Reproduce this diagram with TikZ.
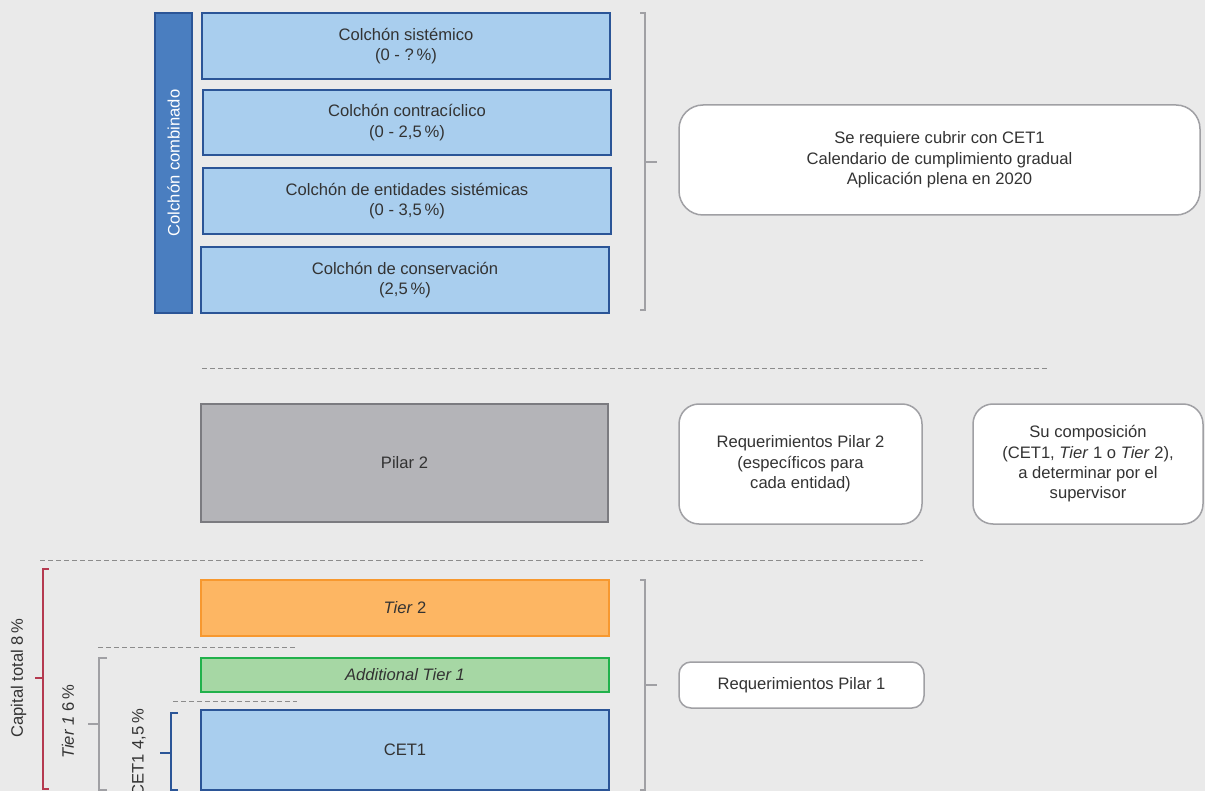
\documentclass[tikz,border=0pt]{standalone}
\usepackage{fontspec}
\setmainfont{Liberation Sans}
\definecolor{fondo}{HTML}{EAEAEA}
\definecolor{txtgray}{HTML}{333333}
\definecolor{cetfill}{HTML}{A9CEEE}
\definecolor{cetline}{HTML}{2B5597}
\definecolor{barfill}{HTML}{4A7EC0}
\definecolor{pilfill}{HTML}{B4B4B8}
\definecolor{pilline}{HTML}{7B7B80}
\definecolor{tierfill}{HTML}{FDB663}
\definecolor{tierline}{HTML}{F7982F}
\definecolor{addfill}{HTML}{A6D7A4}
\definecolor{addline}{HTML}{21B14B}
\definecolor{notaline}{HTML}{A0A0A4}
\definecolor{capred}{HTML}{B53A50}
\definecolor{cortegray}{HTML}{8C8C8C}

\begin{document}
\begin{tikzpicture}[x=0.5pt, y=-0.5pt,
    every node/.style={font=\fontsize{8.3}{10.2}\selectfont, text=txtgray, inner sep=0pt, align=center},
    colchon/.style={draw=cetline, fill=cetfill, line width=1pt, minimum width=204pt, minimum height=33pt},
    nota/.style={draw=notaline, fill=white, line width=0.75pt, rounded corners=8pt},
    llave/.style={draw=notaline, line width=0.75pt},
    corte/.style={draw=cortegray, line width=0.5pt, dash pattern=on 2.5pt off 1.5pt}]
    \useasboundingbox (0,0) rectangle (1205,791);
    \clip (0,0) rectangle (1205,791);
    \fill[fondo] (0,0) rectangle (1205,791);
    % Colchones
    \node[draw=cetline, fill=barfill, line width=1pt, minimum width=18.5pt, minimum height=150pt] (bar) at (173.5,163) {};
    \node[rotate=90, text=white] (barlbl) at (173.5,163) {Colchón combinado};
    \node[colchon] (sist) at (406,46) {Colchón sistémico\\(0 - ?\,\%)};
    \node[colchon, minimum height=32.5pt] (contra) at (407,122.5) {Colchón contracíclico\\(0 - 2,5\,\%)};
    \node[colchon] (entid) at (407,201) {Colchón de entidades sistémicas\\(0 - 3,5\,\%)};
    \node[colchon] (conserv) at (405,280) {Colchón de conservación\\(2,5\,\%)};
    \draw[llave] (640,13) -- (645,13) -- (645,310) -- (640,310);
    \draw[llave] (645,162) -- (657,162);
    \node[nota, rounded corners=12pt, minimum width=260.5pt, minimum height=55pt] (cet1nota) at (939.5,160)
        {Se requiere cubrir con CET1\\Calendario de cumplimiento gradual\\Aplicación plena en 2020};
    \draw[corte] (202,368) -- (1050,368);
    % Pilar 2
    \node[draw=pilline, fill=pilfill, line width=0.75pt, minimum width=203.5pt, minimum height=59pt] (pilar) at (404.5,463) {Pilar 2};
    \node[nota, rounded corners=10pt, minimum width=121.5pt, minimum height=60pt] (reqdos) at (800.5,464)
        {Requerimientos Pilar 2\\(específicos para\\cada entidad)};
    \node[nota, rounded corners=10pt, minimum width=115pt, minimum height=60pt] (compos) at (1088,464)
        {Su composición\\(CET1, \textit{Tier} 1 o \textit{Tier} 2),\\a determinar por el\\supervisor};
    \draw[corte] (40,560) -- (923,560);
    % Pilar 1
    \node[draw=tierline, fill=tierfill, line width=0.75pt, minimum width=204pt, minimum height=28pt] (tierdos) at (405,608) {\textit{Tier} 2};
    \draw[corte] (98,647) -- (297,647);
    \node[draw=addline, fill=addfill, line width=1pt, minimum width=204pt, minimum height=17pt] (addtier) at (405,675) {\textit{Additional Tier 1}};
    \draw[corte] (173,701) -- (297,701);
    \node[colchon, minimum height=40pt] (cet) at (405,750) {CET1};
    \draw[llave] (640,580) -- (645,580) -- (645,790) -- (640,790);
    \draw[llave] (645,685) -- (657,685);
    \node[nota, rounded corners=6pt, minimum width=122.5pt, minimum height=23pt] (requno) at (801.5,685) {Requerimientos Pilar 1};
    % Llaves de la izquierda
    \draw[capred, line width=0.75pt] (49,569) -- (43,569) -- (43,789) -- (49,789);
    \draw[capred, line width=0.75pt] (35,678) -- (43,678);
    \node[rotate=90] (captot) at (18.5,678) {Capital total 8\,\%};
    \draw[llave] (107,658) -- (99,658) -- (99,790) -- (107,790);
    \draw[llave] (88,724) -- (99,724);
    \node[rotate=90] (tieruno) at (68,722) {\textit{Tier 1} 6\,\%};
    \draw[cetline, line width=0.75pt] (178,713) -- (171,713) -- (171,790) -- (178,790);
    \draw[cetline, line width=0.75pt] (160,753) -- (171,753);
    \node[rotate=90] (cetlbl) at (139,753) {CET1 4,5\,\%};
\end{tikzpicture}
\end{document}
